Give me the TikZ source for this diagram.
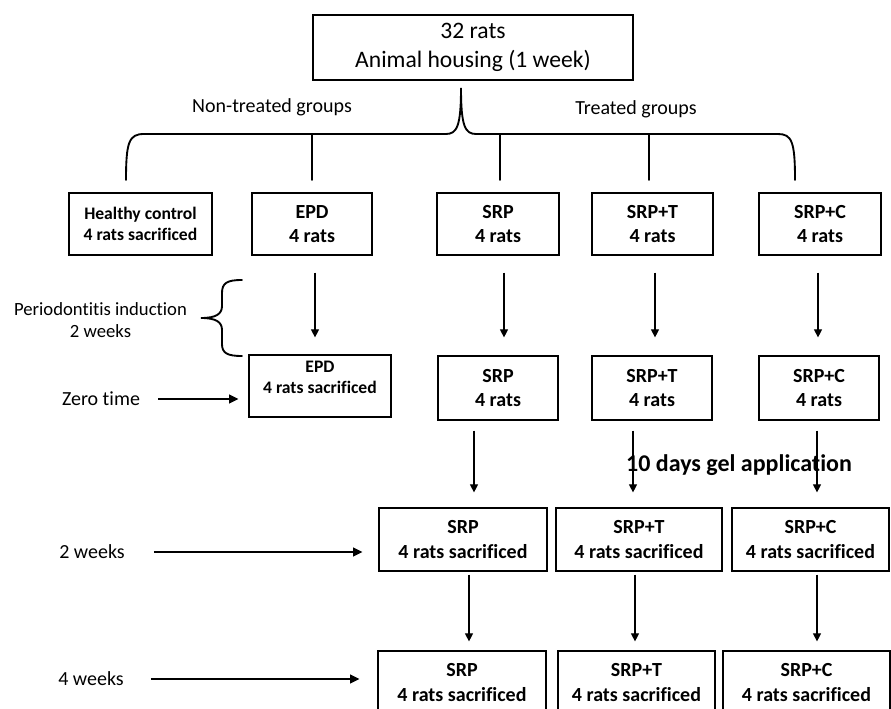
\documentclass[tikz,border=0pt]{standalone}
\usepackage{fontspec}
\setmainfont{Carlito}[Ligatures=NoCommon]
\usetikzlibrary{arrows.meta}
\tikzset{
  box/.style={draw, line width=0.9pt, align=center, inner sep=0pt,
    font=\fontsize{15}{18.5}\selectfont\bfseries},
  smallbox/.style={box, font=\fontsize{13.2}{15.5}\selectfont\bfseries},
  lbl/.style={align=center, inner sep=0pt, font=\fontsize{15}{18}\selectfont},
  varr/.style={line width=0.8pt, -{Triangle[length=6pt,width=6pt]}},
  harr/.style={line width=1.4pt, -{Triangle[length=7pt,width=6.5pt]}},
  bline/.style={line width=1.4pt, line cap=round},
}
\begin{document}
\begin{tikzpicture}[x=0.75pt, y=-0.75pt]
\useasboundingbox (0,0) rectangle (891,709);

% top box
\node[draw, line width=0.9pt, align=center, inner sep=0pt,
  minimum width=240pt, minimum height=48.75pt,
  font=\fontsize{17.7}{21.75}\selectfont] (top) at (473,47.5) {32 rats\\Animal housing (1 week)};

% group labels
\node[lbl] (nontr) at (272,107) {Non-treated groups};
\node[lbl] (tr) at (636,109) {Treated groups};

% row 1
\node[smallbox, minimum width=107.25pt, minimum height=46.5pt] (healthy) at (140.5,224) {Healthy control\\4 rats sacrificed};
\node[box, minimum width=90pt, minimum height=46.5pt] (epd1) at (312,224) {EPD\\4 rats};
\node[box, minimum width=91.5pt, minimum height=46.5pt] (srp1) at (498,224) {SRP\\4 rats};
\node[box, minimum width=90.75pt, minimum height=46.5pt] (srpt1) at (652.5,224) {SRP+T\\4 rats};
\node[box, minimum width=91.5pt, minimum height=46.5pt] (srpc1) at (820,224) {SRP+C\\4 rats};

% big brace
\coordinate (bj) at (461,134);
\draw[bline] (126,180) .. controls (126,142) and (129,134) .. (144,134)
  -- (446,134) .. controls (457,134) and (461,126) .. (461,88)
  .. controls (461,126) and (465,134) .. (476,134)
  -- (778,134) .. controls (792,134) and (795,142) .. (795,180);
\draw[bline] (epd1.north |- bj) -- ++(0,46);
\draw[bline] (srp1.north |- bj) ++(2,0) -- ++(0,46);
\draw[bline] (srpt1.north |- bj) ++(-3.5,0) -- ++(0,46);

% periodontitis brace and label
\draw[bline] (242,280) .. controls (227,280) and (222,283) .. (222,293)
  -- (222,306) .. controls (222,314) and (216,318) .. (201,318)
  .. controls (216,318) and (222,322) .. (222,330)
  -- (222,344) .. controls (222,353) and (227,356) .. (242,356);
\node[lbl, font=\fontsize{14}{16.5}\selectfont] (perio) at (100.5,320) {Periodontitis induction\\2 weeks};

% row 2
\node[draw, line width=0.9pt, inner sep=0pt, minimum width=106.5pt, minimum height=46.5pt] (epd2) at (320,386) {};
\node[align=center, inner sep=0pt, font=\fontsize{13.2}{15.75}\selectfont\bfseries] (epd2t) at (320,377) {EPD\\4 rats sacrificed};
\node[box, minimum width=90pt, minimum height=48pt] (srp2) at (498,388) {SRP\\4 rats};
\node[box, minimum width=90pt, minimum height=48pt] (srpt2) at (652,388) {SRP+T\\4 rats};
\node[box, minimum width=90pt, minimum height=48pt] (srpc2) at (819,388) {SRP+C\\4 rats};

% row 3
\node[box, minimum width=126pt, minimum height=47.25pt] (srp3) at (463,539.5) {SRP\\4 rats sacrificed};
\node[box, minimum width=124.5pt, minimum height=47.25pt] (srpt3) at (639,539.5) {SRP+T\\4 rats sacrificed};
\node[box, minimum width=117.75pt, minimum height=47.25pt] (srpc3) at (810.5,539.5) {SRP+C\\4 rats sacrificed};

% row 4
\node[box, minimum width=126pt, minimum height=47.25pt] (srp4) at (462,682.5) {SRP\\4 rats sacrificed};
\node[box, minimum width=117.75pt, minimum height=47.25pt] (srpt4) at (636.5,682.5) {SRP+T\\4 rats sacrificed};
\node[box, minimum width=125.25pt, minimum height=47.25pt] (srpc4) at (806.5,682.5) {SRP+C\\4 rats sacrificed};

% vertical arrows row1 -> row2
\draw[varr, shorten <=12.75pt, shorten >=12.75pt] (epd1.south -| 315,0) -- (epd2.north -| 315,0);
\draw[varr, shorten <=12.75pt, shorten >=13.5pt] (srp1.south -| 504,0) -- (srp2.north -| 504,0);
\draw[varr, shorten <=12.75pt, shorten >=13.5pt] (srpt1.south -| 655,0) -- (srpt2.north -| 655,0);
\draw[varr, shorten <=12.75pt, shorten >=13.5pt] (srpc1.south -| 818,0) -- (srpc2.north -| 818,0);

% vertical arrows row2 -> row3
\draw[varr, shorten <=7.5pt, shorten >=11.25pt] (srp2.south -| 474,0) -- (srp3.north -| 474,0);
\draw[varr, shorten <=7.5pt, shorten >=11.25pt] (srpt2.south -| 633,0) -- (srpt3.north -| 633,0);
\draw[varr, shorten <=7.5pt, shorten >=11.25pt] (srpc2.south -| 817,0) -- (srpc3.north -| 817,0);

% vertical arrows row3 -> row4
\draw[varr, shorten <=2.25pt, shorten >=6.75pt] (srp3.south -| 469,0) -- (srp4.north -| 469,0);
\draw[varr, shorten <=2.25pt, shorten >=6.75pt] (srpt3.south -| 635,0) -- (srpt4.north -| 635,0);
\draw[varr, shorten <=2.25pt, shorten >=6.75pt] (srpc3.south -| 817,0) -- (srpc4.north -| 817,0);

% gel label
\node[inner sep=0pt, font=\fontsize{18}{21}\selectfont\bfseries] (gel) at (739,465) {10 days gel application};

% timeline labels and arrows
\node[lbl] (zero) at (101,399) {Zero time};
\node[lbl] (two) at (92,552) {2 weeks};
\node[lbl] (four) at (91,679) {4 weeks};
\draw[harr, shorten <=13.5pt, shorten >=7.5pt] (zero.east) -- (zero.east -| epd2.west);
\draw[harr, shorten <=21.75pt, shorten >=12pt] (two.east) -- (two.east -| srp3.west);
\draw[harr, shorten <=20.25pt, shorten >=13.5pt] (four.east) -- (four.east -| srp4.west);
\end{tikzpicture}
\end{document}
